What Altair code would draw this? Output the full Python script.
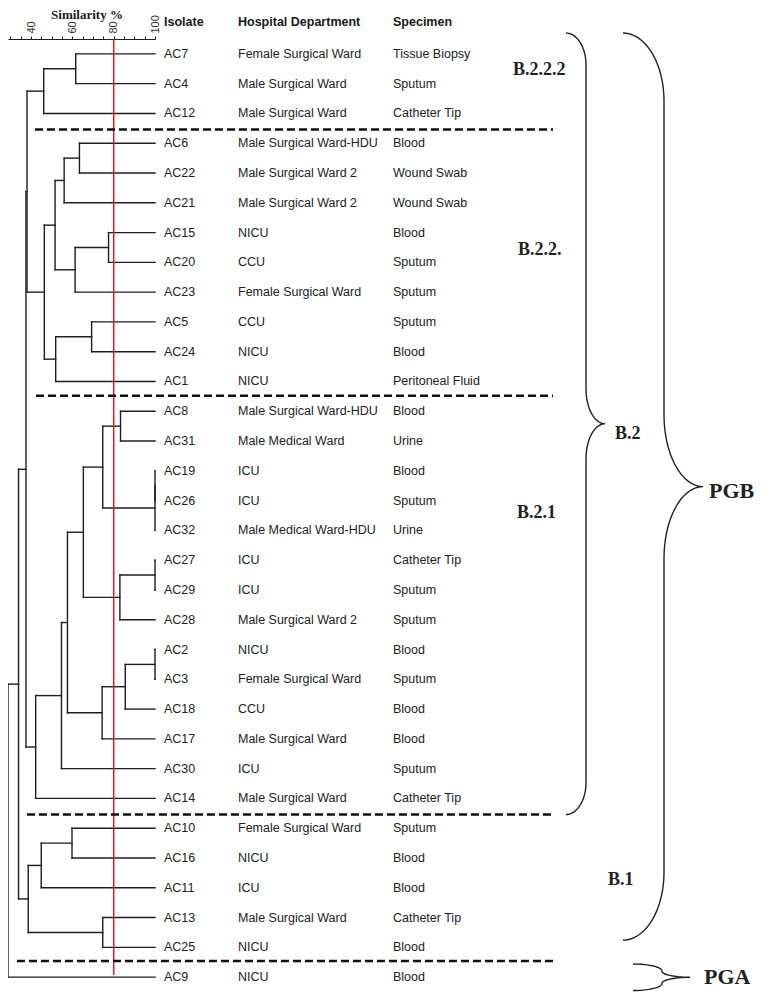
import altair as alt
import numpy as np
import pandas as pd

# ---------------- data ----------------
isolates = ["AC7", "AC4", "AC12", "AC6", "AC22", "AC21", "AC15", "AC20", "AC23", "AC5", "AC24", "AC1",
            "AC8", "AC31", "AC19", "AC26", "AC32", "AC27", "AC29", "AC28", "AC2", "AC3", "AC18", "AC17",
            "AC30", "AC14", "AC10", "AC16", "AC11", "AC13", "AC25", "AC9"]
departments = ["Female Surgical Ward", "Male Surgical Ward", "Male Surgical Ward",
               "Male Surgical Ward-HDU", "Male Surgical Ward 2", "Male Surgical Ward 2", "NICU", "CCU",
               "Female Surgical Ward", "CCU", "NICU", "NICU",
               "Male Surgical Ward-HDU", "Male Medical Ward", "ICU", "ICU", "Male Medical Ward-HDU", "ICU",
               "ICU", "Male Surgical Ward 2", "NICU", "Female Surgical Ward", "CCU", "Male Surgical Ward",
               "ICU", "Male Surgical Ward",
               "Female Surgical Ward", "NICU", "ICU", "Male Surgical Ward", "NICU", "NICU"]
specimens = ["Tissue Biopsy", "Sputum", "Catheter Tip", "Blood", "Wound Swab", "Wound Swab", "Blood",
             "Sputum", "Sputum", "Sputum", "Blood", "Peritoneal Fluid", "Blood", "Urine", "Blood", "Sputum",
             "Urine", "Catheter Tip", "Sputum", "Sputum", "Blood", "Sputum", "Blood", "Blood", "Sputum",
             "Catheter Tip", "Sputum", "Blood", "Blood", "Catheter Tip", "Blood", "Blood"]

# merges: node n<i> = merge(merge_a[i], merge_b[i]) at similarity merge_sim[i]
merge_a = ["AC7", "n0", "AC6", "n2", "AC15", "n4", "n3", "AC5", "n7", "n6", "n1",
           "AC8", "AC19", "n12", "n11", "AC27", "n15", "n14", "AC2", "n18", "n19", "n17", "n21", "n22",
           "n10", "AC10", "n25", "AC13", "n26", "n24", "n29"]
merge_b = ["AC4", "AC12", "AC22", "AC21", "AC20", "AC23", "n5", "AC24", "AC1", "n8", "n9",
           "AC31", "AC26", "AC32", "n13", "AC29", "AC28", "n16", "AC3", "AC18", "AC17", "n20", "AC30", "AC14",
           "n23", "AC16", "AC11", "AC25", "n27", "n28", "AC9"]
merge_sim = [61.6, 46.1, 63.4, 56.0, 77.5, 61.3, 51.6, 69.3, 51.9, 46.4, 38.0,
             83.3, 100, 100, 74.7, 100, 83.0, 65.3, 100, 85.6, 74.4, 57.6, 54.7, 42.2,
             37.5, 59.8, 44.9, 74.7, 38.6, 33.9, 28.8]

cutoff = 80
axis_ticks = list(range(30, 101, 5))
headers = ["Isolate", "Hospital Department", "Specimen"]

# group annotations
separator_rows = [2.54, 11.48, 25.54, 30.46]
group_labels = ["B.2.2.2", "B.2.2.", "B.2.1", "B.2", "PGB", "B.1", "PGA"]
group_label_rows = [0.54, 6.59, 15.43, 12.75, 14.69, 27.75, 31.0]

# ---------------- layout constants ----------------
W, H = 747, 953
ROW_PX = H / 32.0
YS = alt.Scale(domain=[-0.5, 31.5], reverse=True, nice=False, zero=False)
XS = alt.Scale(domain=[28.8, 100], range=[0, 147], nice=False, zero=False)
PX = alt.Scale(domain=[0, W], range=[0, W], nice=False, zero=False)
LINE = "#1e1e1e"
SANS = "Liberation Sans, Arial"
FS = 12.5

# ---------------- dendrogram segments ----------------
pos = {name: (100.0, float(i)) for i, name in enumerate(isolates)}
segs = []
for i, (a, b, s) in enumerate(zip(merge_a, merge_b, merge_sim)):
    xa, ya = pos[a]
    xb, yb = pos[b]
    segs.append((xa, s, ya, ya))
    segs.append((xb, s, yb, yb))
    segs.append((s, s, ya, yb))
    pos[f"n{i}"] = (s, (ya + yb) / 2)
seg_df = pd.DataFrame(segs, columns=["x", "x2", "y", "y2"])

seg_layer = alt.Chart(seg_df).mark_rule(color=LINE, strokeWidth=1.4, strokeCap="square").encode(
    x=alt.X("x:Q", scale=XS, axis=alt.Axis(
        orient="top", values=axis_ticks, title=None, grid=False,
        labelExpr="datum.value % 20 == 0 ? datum.label : ''",
        labelAngle=270, labelFlush=False, labelPadding=3, labelFontSize=11,
        labelFont="Liberation Sans", labelColor="#333333", tickSize=3,
        tickColor=LINE, domainColor=LINE, labelOverlap=False)),
    x2="x2:Q",
    y=alt.Y("y:Q", scale=YS, axis=None),
    y2="y2:Q",
)

red_df = pd.DataFrame({"s": [cutoff], "r0": [-0.5], "r1": [30.93]})
red_layer = alt.Chart(red_df).mark_rule(color="#e3191c", strokeWidth=1.5).encode(
    x=alt.X("s:Q", scale=XS), y=alt.Y("r0:Q", scale=YS, axis=None), y2="r1:Q")

dendro = alt.layer(seg_layer, red_layer)

# ---------------- annotations (pixel x scale) ----------------
sep_df = pd.DataFrame({"row": separator_rows, "xs": [27, 28, 19, 9], "xe": [545, 545, 547, 547]})
sep_layer = alt.Chart(sep_df).mark_rule(color="#111111", strokeWidth=2.5, strokeDash=[8, 4]).encode(
    x=alt.X("xs:Q", scale=PX, axis=None), x2="xe:Q", y=alt.Y("row:Q", scale=YS, axis=None))


def brace(name, top, bot, x_open, x_spine, x_tip, hook_px, tip_px, n=24):
    hr, tr = hook_px / ROW_PX, tip_px / ROW_PX
    mid = (top + bot) / 2
    t = np.linspace(0, np.pi / 2, n)
    xs, ys = [], []
    xs += list(x_open + (x_spine - x_open) * np.sin(t)); ys += list(top + hr * (1 - np.cos(t)))
    xs += list(x_spine + (x_tip - x_spine) * (1 - np.cos(t))); ys += list(mid - tr + tr * np.sin(t))
    xs += list(x_tip - (x_tip - x_spine) * np.sin(t)); ys += list(mid + tr * (1 - np.cos(t)))
    xs += list(x_spine - (x_spine - x_open) * (1 - np.cos(t))); ys += list(bot - hr + hr * np.sin(t))
    return pd.DataFrame({"brace": name, "i": range(len(xs)), "px": xs, "row": ys})


brace_df = pd.concat([
    brace("B.2", -0.70, 25.54, 558, 578, 597, 32, 35),
    brace("PGB", -0.70, 29.76, 615, 656, 695, 68, 72),
    brace("PGA", 30.56, 31.45, 625, 654, 682, 7, 6, n=12),
])
brace_layer = alt.Chart(brace_df).mark_line(color="#222222", strokeWidth=1.4).encode(
    x=alt.X("px:Q", scale=PX, axis=None), y=alt.Y("row:Q", scale=YS, axis=None),
    detail="brace:N", order="i:Q")

gl_df = pd.DataFrame({"label": group_labels, "row": group_label_rows,
                      "px": [505, 510, 509, 607, 701, 600, 696],
                      "size": [18, 18, 18, 18, 22, 18, 22]})
gl_layer = alt.Chart(gl_df).mark_text(font="Liberation Serif", fontWeight="bold", align="left",
                                      baseline="middle", color="#222222").encode(
    x=alt.X("px:Q", scale=PX, axis=None), y=alt.Y("row:Q", scale=YS, axis=None),
    text="label:N", size=alt.Size("size:Q", scale=None, legend=None))

# ---------------- text columns ----------------
rows_df = pd.DataFrame({"row": range(len(isolates)), "iso": isolates, "dep": departments, "spec": specimens})
col_px = [156, 230, 385]


def column(field, x):
    return alt.Chart(rows_df).mark_text(font=SANS, fontSize=FS, align="left", baseline="middle",
                                        color="#222222").encode(
        x=alt.value(x), y=alt.Y("row:Q", scale=YS, axis=None), text=f"{field}:N")


hdr_df = pd.DataFrame({"h": headers, "row": [-1.07] * 3, "px": col_px})
hdr_layer = alt.Chart(hdr_df).mark_text(font=SANS, fontSize=FS, fontWeight="bold", align="left",
                                        baseline="middle", color="#1a1a1a").encode(
    x=alt.X("px:Q", scale=PX, axis=None), y=alt.Y("row:Q", scale=YS, axis=None), text="h:N")

title_df = pd.DataFrame({"t": ["Similarity %"], "row": [-1.29], "px": [79]})
title_layer = alt.Chart(title_df).mark_text(font="Liberation Serif", fontSize=13, fontWeight="bold",
                                            align="center", baseline="middle", color="#1a1a1a").encode(
    x=alt.X("px:Q", scale=PX, axis=None), y=alt.Y("row:Q", scale=YS, axis=None), text="t:N")

annot = alt.layer(sep_layer, brace_layer, gl_layer, hdr_layer, title_layer)

chart = alt.layer(
    dendro, annot,
    column("iso", col_px[0]), column("dep", col_px[1]), column("spec", col_px[2]),
).resolve_scale(x="independent").properties(
    width=W, height=H,
    autosize=alt.AutoSizeParams(type="none"),
    padding={"left": 0, "top": 31, "right": 0, "bottom": 0},
    background="white",
).configure_view(strokeWidth=0)

chart.save("out.html", embed_options={"renderer": "svg", "actions": False})
